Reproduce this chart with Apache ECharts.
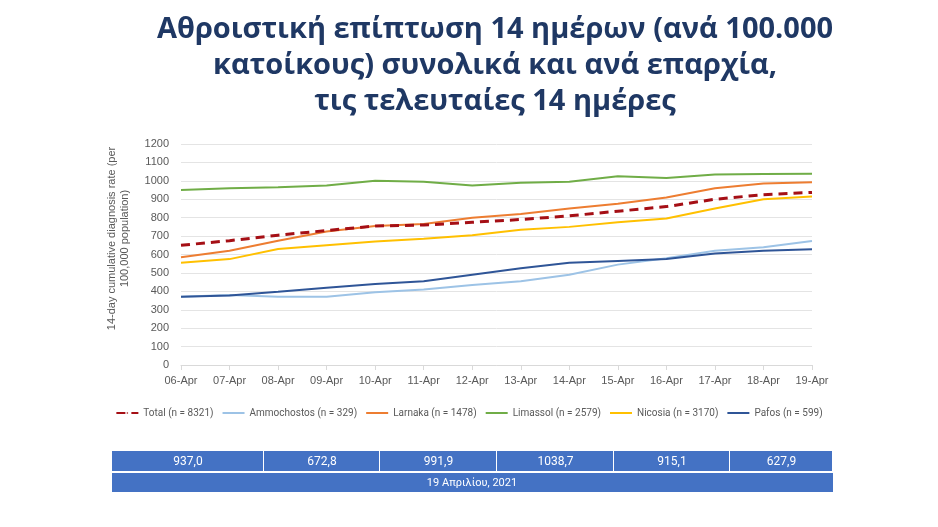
<!DOCTYPE html>
<html>
<head>
<meta charset="utf-8">
<script src="https://cdn.jsdelivr.net/npm/echarts@6/dist/echarts.min.js"></script>
<style>
  html, body { margin: 0; padding: 0; background: #fff; }
  #chart { width: 938px; height: 527px; }
</style>
</head>
<body>
<div id="chart"></div>
<script>
const days = ["06-Apr", "07-Apr", "08-Apr", "09-Apr", "10-Apr", "11-Apr", "12-Apr",
  "13-Apr", "14-Apr", "15-Apr", "16-Apr", "17-Apr", "18-Apr", "19-Apr"];

const total       = [650, 675, 705, 730, 755, 760, 775, 790, 810, 835, 860, 900, 925, 937.0];
const ammochostos = [370, 380, 370, 370, 395, 410, 435, 455, 490, 545, 580, 620, 640, 672.8];
const larnaka     = [585, 620, 675, 725, 755, 765, 800, 820, 850, 875, 910, 960, 985, 991.9];
const limassol    = [950, 960, 965, 975, 1000, 995, 975, 990, 995, 1025, 1015, 1035, 1037, 1038.7];
const nicosia     = [555, 575, 630, 650, 670, 685, 705, 735, 750, 775, 795, 850, 900, 915.1];
const pafos       = [370, 378, 398, 420, 440, 455, 490, 525, 555, 565, 575, 605, 620, 627.9];

const seriesNames = ["Total (n = 8321)", "Ammochostos (n = 329)", "Larnaka (n = 1478)",
  "Limassol (n = 2579)", "Nicosia (n = 3170)", "Pafos (n = 599)"];
const tableValues = ["937,0", "672,8", "991,9", "1038,7", "915,1", "627,9"];
const tableDate = "19 Απριλίου, 2021";

const colors = ["#A50F15", "#9DC3E6", "#ED7D31", "#70AD47", "#FFC000", "#2F5597"];
const dataSets = [total, ammochostos, larnaka, limassol, nicosia, pafos];

const chart = echarts.init(document.getElementById("chart"));

// bottom table (graphic)
const colEdges = [112, 264, 380, 497, 614, 730, 833];
const tableGraphic = [];
tableValues.forEach((v, i) => {
  tableGraphic.push({
    type: "rect",
    shape: { x: colEdges[i], y: 451, width: colEdges[i + 1] - colEdges[i] - 1, height: 20 },
    style: { fill: "#4472C4" }
  });
  tableGraphic.push({
    type: "text",
    x: (colEdges[i] + colEdges[i + 1]) / 2, y: 462,
    style: { text: v, fill: "#fff", fontSize: 12, fontFamily: "Liberation Sans Narrow, Roboto", align: "center", verticalAlign: "middle" }
  });
});
tableGraphic.push({
  type: "rect",
  shape: { x: 112, y: 473, width: 721, height: 19 },
  style: { fill: "#4472C4" }
});
tableGraphic.push({
  type: "text",
  x: 472, y: 483,
  style: { text: tableDate, fill: "#fff", fontSize: 11, fontFamily: "Liberation Sans Narrow, Roboto", align: "center", verticalAlign: "middle" }
});

chart.setOption({
  animation: false,
  title: {
    text: "Αθροιστική επίπτωση 14 ημέρων (ανά 100.000\nκατοίκους) συνολικά και ανά επαρχία,\nτις τελευταίες 14 ημέρες",
    left: 490,
    top: 7,
    textAlign: "center",
    textStyle: {
      fontFamily: "Open Sans",
      fontWeight: "bold",
      fontSize: 29,
      lineHeight: 36,
      color: "#1F3864"
    }
  },
  grid: { left: 181, right: 126, top: 144, bottom: 162 },
  legend: {
    top: 403,
    left: "center",
    itemWidth: 22,
    itemHeight: 2,
    itemGap: 8,
    textStyle: { fontSize: 10, color: "#595959", fontFamily: "Liberation Sans Narrow, Roboto" },
    data: seriesNames
  },
  xAxis: {
    type: "category",
    data: days,
    boundaryGap: false,
    axisLine: { lineStyle: { color: "#D9D9D9" } },
    axisTick: { show: true, lineStyle: { color: "#D9D9D9" } },
    axisLabel: { color: "#595959", fontSize: 11, margin: 10, interval: 0 }
  },
  yAxis: {
    type: "value",
    min: 0,
    max: 1200,
    interval: 100,
    name: "14-day cumulative diagnosis rate (per\n100,000 population)",
    nameLocation: "middle",
    nameGap: 50,
    nameTextStyle: { color: "#595959", fontSize: 11, lineHeight: 13, padding: [0, 0, 0, 32] },
    axisLine: { show: false },
    axisTick: { show: false },
    axisLabel: { color: "#595959", fontSize: 11, margin: 12, formatter: (v) => String(v) },
    splitLine: { lineStyle: { color: "#E4E4E4" } }
  },
  series: dataSets.map((d, i) => ({
    name: seriesNames[i],
    type: "line",
    data: d,
    symbol: "none",
    z: i === 0 ? 10 : 2,
    color: colors[i],
    lineStyle: i === 0
      ? { color: colors[i], width: 3, type: [9, 6] }
      : { color: colors[i], width: 2 }
  })),
  graphic: tableGraphic
});
</script>
</body>
</html>
